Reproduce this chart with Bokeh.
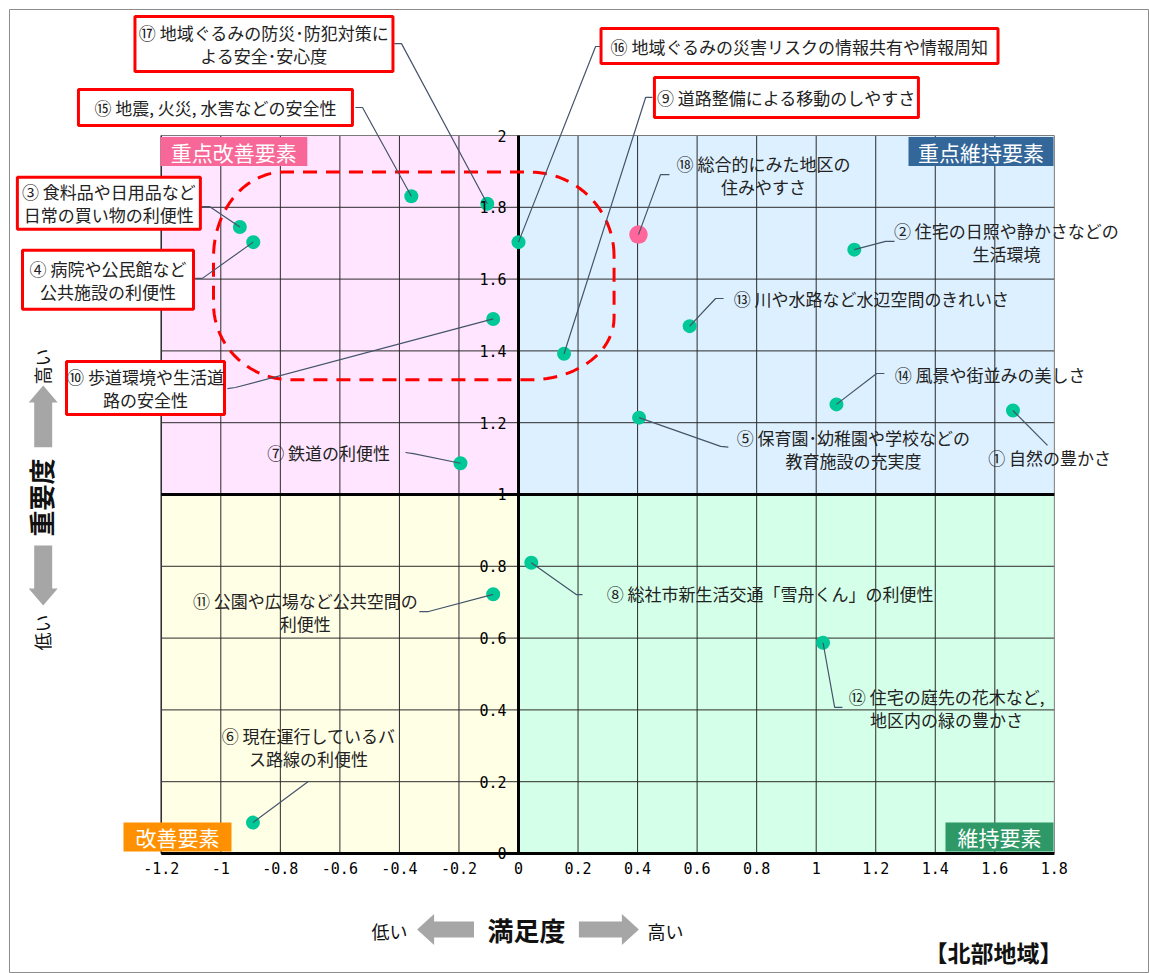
import numpy as np
from bokeh.plotting import figure
from bokeh.models import Range1d, LinearAxis, FixedTicker
from bokeh.core.properties import value
from bokeh.embed import file_html
from bokeh.resources import INLINE

# ---------------- data ----------------
items = [
    "① 自然の豊かさ",
    "② 住宅の日照や静かさなどの\n生活環境",
    "③ 食料品や日用品など\n日常の買い物の利便性",
    "④ 病院や公民館など\n公共施設の利便性",
    "⑤ 保育園･幼稚園や学校などの\n教育施設の充実度",
    "⑥ 現在運行しているバ\nス路線の利便性",
    "⑦ 鉄道の利便性",
    "⑧ 総社市新生活交通「雪舟くん」の利便性",
    "⑨ 道路整備による移動のしやすさ",
    "⑩ 歩道環境や生活道\n路の安全性",
    "⑪ 公園や広場など公共空間の\n利便性",
    "⑫ 住宅の庭先の花木など,\n地区内の緑の豊かさ",
    "⑬ 川や水路など水辺空間のきれいさ",
    "⑭ 風景や街並みの美しさ",
    "⑮ 地震, 火災, 水害などの安全性",
    "⑯ 地域ぐるみの災害リスクの情報共有や情報周知",
    "⑰ 地域ぐるみの防災･防犯対策に\nよる安全･安心度",
]
satisfaction = [1.661, 1.128, -0.936, -0.891, 0.405, -0.892, -0.195, 0.043, 0.153,
                -0.085, -0.085, 1.023, 0.575, 1.068, -0.360, 0.000, -0.105]
importance = [1.234, 1.682, 1.745, 1.703, 1.214, 0.086, 1.087, 0.810, 1.392,
              1.489, 0.722, 0.587, 1.469, 1.251, 1.831, 1.703, 1.810]

overall_item = "⑱ 総合的にみた地区の\n住みやすさ"
overall_satisfaction = [0.403]
overall_importance = [1.724]

xticks = [-1.2, -1, -0.8, -0.6, -0.4, -0.2, 0, 0.2, 0.4, 0.6, 0.8, 1, 1.2, 1.4, 1.6, 1.8]
xtick_labels = ["-1.2", "-1", "-0.8", "-0.6", "-0.4", "-0.2", "0", "0.2", "0.4", "0.6",
                "0.8", "1", "1.2", "1.4", "1.6", "1.8"]
yticks = [0, 0.2, 0.4, 0.6, 0.8, 1, 1.2, 1.4, 1.6, 1.8, 2]
ytick_labels = ["0", "0.2", "0.4", "0.6", "0.8", "1", "1.2", "1.4", "1.6", "1.8", "2"]

quadrant_names = ["重点改善要素", "重点維持要素", "改善要素", "維持要素"]

# ---------------- layout (positions of annotations, data units) ----------------
X_MIN, X_MID, X_MAX = -1.2, 0, 1.8
Y_MIN, Y_MID, Y_MAX = 0, 1, 2

label_x = [1.784, 1.639, -1.376, -1.379, 1.125, -0.705, -0.638, 0.845, 0.900,
           -1.253, -0.716, 1.438, 1.186, 1.584, -1.018, 0.944, -0.855]
label_y = [1.103, 1.703, 1.811, 1.598, 1.128, 0.298, 1.117, 0.724, 2.106,
           1.297, 0.673, 0.404, 1.546, 1.334, 2.078, 2.249, 2.255]
e0x = [1.777, 1.263, -1.065, -1.092, 0.705, -0.705, -0.380, 0.215, 0.450,
       -0.978, -0.333, 1.088, 0.689, 1.229, -0.548, 0.275, -0.417]
e0y = [1.137, 1.705, 1.802, 1.602, 1.132, 0.201, 1.117, 0.721, 2.106,
       1.295, 0.674, 0.407, 1.546, 1.337, 2.078, 2.248, 2.256]
e1x = [1.777, 1.233, -1.038, -1.062, 0.679, -0.705, -0.353, 0.195, 0.427,
       -0.951, -0.302, 1.062, 0.662, 1.203, -0.524, 0.259, -0.393]
e1y = [1.137, 1.705, 1.802, 1.602, 1.134, 0.201, 1.114, 0.721, 2.106,
       1.298, 0.674, 0.407, 1.546, 1.337, 2.078, 2.248, 2.256]
boxed = [2, 3, 8, 9, 14, 15, 16]
box_w = [183, 171, 264, 158, 274, 397, 258]
box_h = [52, 59, 40, 53, 36, 35, 55]

overall_label = (0.823, 1.891)
overall_e0 = (0.507, 1.891)
overall_e1 = (0.477, 1.891)

PX_X = 297.7   # pixels per data unit (x)
PX_Y = 359.0   # pixels per data unit (y)

TEXT_FONT = value("Noto Sans CJK JP")
NUM_FONT = "DejaVu Sans Mono"

p = figure(width=1149, height=973, output_backend="svg", toolbar_location=None,
           x_range=Range1d(-1.7098, 2.1196), y_range=Range1d(-0.3343, 2.3510),
           x_axis_location=None, y_axis_location=None,
           min_border_left=9, min_border_top=9, min_border_right=0, min_border_bottom=0)
p.grid.visible = False
p.background_fill_color = "white"
p.border_fill_color = "white"
p.outline_line_color = "#8c8c8c"
p.outline_line_width = 1

# quadrant backgrounds
p.quad(left=[X_MIN, X_MID, X_MIN, X_MID], right=[X_MID, X_MAX, X_MID, X_MAX],
       bottom=[Y_MID, Y_MID, Y_MIN, Y_MIN], top=[Y_MAX, Y_MAX, Y_MID, Y_MID],
       fill_color=["#FFE5FF", "#DDF0FF", "#FFFFE6", "#D4FFE8"], line_color=None)

# grid lines
gx = [t for t in xticks if t not in (X_MIN, X_MID, X_MAX)]
gy = [t for t in yticks if t not in (Y_MIN, Y_MID, Y_MAX)]
p.segment(x0=gx, y0=[Y_MIN] * len(gx), x1=gx, y1=[Y_MAX] * len(gx),
          line_color="#2b2b2b", line_width=1)
p.segment(x0=[X_MIN] * len(gy), y0=gy, x1=[X_MAX] * len(gy), y1=gy,
          line_color="#2b2b2b", line_width=1)
# plot border
p.quad(left=[X_MIN], right=[X_MAX], bottom=[Y_MIN], top=[Y_MAX],
       fill_color=None, line_color="#7a7a7a", line_width=1)
p.segment(x0=[X_MIN], y0=[Y_MIN], x1=[X_MIN], y1=[Y_MAX], line_color="#333333", line_width=1.5)
# heavy lines
p.segment(x0=[X_MIN, X_MIN, X_MID], y0=[Y_MID, Y_MIN, Y_MIN],
          x1=[X_MAX, X_MAX, X_MID], y1=[Y_MID, Y_MIN, Y_MAX],
          line_color="black", line_width=3)

# axes (tick labels only)
xaxis = LinearAxis(fixed_location=0, bounds=(X_MIN, X_MAX), ticker=FixedTicker(ticks=xticks),
                   major_label_overrides=dict(zip(xticks, xtick_labels)),
                   axis_line_color=None, major_tick_line_color=None, minor_tick_line_color=None,
                   major_tick_out=0, major_tick_in=0, major_label_standoff=9,
                   major_label_text_font=NUM_FONT, major_label_text_font_size="15px",
                   major_label_text_color="black")
p.add_layout(xaxis, "below")
yaxis = LinearAxis(fixed_location=0, bounds=(Y_MIN, Y_MAX), ticker=FixedTicker(ticks=yticks),
                   major_label_overrides=dict(zip(yticks, ytick_labels)),
                   axis_line_color=None, major_tick_line_color=None, minor_tick_line_color=None,
                   major_tick_out=0, major_tick_in=0, major_label_standoff=12,
                   major_label_text_font=NUM_FONT, major_label_text_font_size="15px",
                   major_label_text_color="black")
p.add_layout(yaxis, "left")

# dashed highlight (rounded rectangle around priority items)
def rounded_rect(x0, x1, y0, y1, radii, n=24):
    (rxtl, rytl), (rxtr, rytr), (rxbr, rybr), (rxbl, rybl) = radii
    xs, ys = [], []
    specs = [((x1 - rxtr, y1 - rytr), rxtr, rytr, 0, 90),
             ((x0 + rxtl, y1 - rytl), rxtl, rytl, 90, 180),
             ((x0 + rxbl, y0 + rybl), rxbl, rybl, 180, 270),
             ((x1 - rxbr, y0 + rybr), rxbr, rybr, 270, 360)]
    for (cx, cy), rx, ry, a0, a1 in specs:
        t = np.radians(np.linspace(a0, a1, n))
        xs.extend(cx + rx * np.cos(t))
        ys.extend(cy + ry * np.sin(t))
    xs.append(xs[0]); ys.append(ys[0])
    return xs, ys

hx, hy = rounded_rect(-1.0245, 0.321, 1.3195, 1.898,
                      [(70 / PX_X, 85 / PX_Y), (84 / PX_X, 84 / PX_Y),
                       (84 / PX_X, 62 / PX_Y), (78 / PX_X, 76 / PX_Y)])
p.line(hx, hy, line_color="#FF0000", line_width=3, line_dash="14 9")

# points
p.scatter(satisfaction, importance, size=14, fill_color="#00C896", line_color=None)
p.scatter(overall_satisfaction, overall_importance, size=18.5, fill_color="#FF6699", line_color=None)

# leader lines
lx = [[e0x[i], e1x[i], satisfaction[i]] for i in range(len(items))]
ly = [[e0y[i], e1y[i], importance[i]] for i in range(len(items))]
lx.append([overall_e0[0], overall_e1[0], overall_satisfaction[0]])
ly.append([overall_e0[1], overall_e1[1], overall_importance[0]])
p.multi_line(lx, ly, line_color="#44546A", line_width=1.2)

# boxes for some labels
p.rect([label_x[i] for i in boxed], [label_y[i] for i in boxed], width=box_w, height=box_h,
       width_units="screen", height_units="screen",
       fill_color="white", line_color="#FF0000", line_width=3)

# labels
p.text(label_x + [overall_label[0]], label_y + [overall_label[1]], text=items + [overall_item],
       text_align="center", text_baseline="middle", text_font=TEXT_FONT,
       text_font_size="17px", text_line_height=0.92, text_color="#222222")

# quadrant corner labels
corner_x = [-0.9563, 1.5536, -1.1455, 1.6157]
corner_y = [1.9554, 1.9554, 0.046, 0.046]
corner_w = [147, 145, 108, 108]
corner_color = ["#F76898", "#336699", "#FF9000", "#2E9966"]
p.rect(corner_x, corner_y, width=corner_w, height=[29] * 4, width_units="screen",
       height_units="screen", fill_color=corner_color, line_color=None)
p.text(corner_x, corner_y, text=quadrant_names, text_align="center", text_baseline="middle",
       text_font=TEXT_FONT, text_font_size="21px", text_color="white")

# axis title arrows
def arrow_poly(tail, tip, shaft_px, head_w_px, head_len_px, horizontal):
    if horizontal:
        (x0, y), (x1, _) = tail, tip
        d = np.sign(x1 - x0)
        hl = head_len_px / PX_X
        sw, hw = shaft_px / 2 / PX_Y, head_w_px / 2 / PX_Y
        xb = x1 - d * hl
        return ([x0, xb, xb, x1, xb, xb, x0], [y - sw, y - sw, y - hw, y, y + hw, y + sw, y + sw])
    (x, y0), (_, y1) = tail, tip
    d = np.sign(y1 - y0)
    hl = head_len_px / PX_Y
    sw, hw = shaft_px / 2 / PX_X, head_w_px / 2 / PX_X
    yb = y1 - d * hl
    return ([x - sw, x - sw, x - hw, x, x + hw, x + sw, x + sw], [y0, yb, yb, y1, yb, yb, y0])

arrows = [arrow_poly((-0.1495, -0.2117), (-0.3406, -0.2117), 16, 31, 17, True),
          arrow_poly((0.2029, -0.2117), (0.4044, -0.2117), 16, 31, 17, True),
          arrow_poly((-1.5966, 1.1318), (-1.5966, 1.3036), 18, 29, 17, False),
          arrow_poly((-1.5966, 0.858), (-1.5966, 0.6908), 18, 29, 17, False)]
p.patches([a[0] for a in arrows], [a[1] for a in arrows], fill_color="#A6A6A6", line_color=None)

p.text([-0.4333, 0.4938], [-0.2173, -0.2173], text=["低い", "高い"], text_align="center",
       text_baseline="middle", text_font=TEXT_FONT, text_font_size="18px", text_color="#111111")
p.text([0.0269], [-0.2117], text=["満足度"], text_align="center", text_baseline="middle",
       text_font=TEXT_FONT, text_font_size="26px", text_font_style="bold", text_color="#111111")
p.text([-1.5999, -1.5999], [1.3565, 0.6156], text=["高い", "低い"], angle=np.pi / 2,
       text_align="center", text_baseline="middle", text_font=TEXT_FONT,
       text_font_size="18px", text_color="#111111")
p.text([-1.6056], [0.9916], text=["重要度"], angle=np.pi / 2, text_align="center",
       text_baseline="middle", text_font=TEXT_FONT, text_font_size="26px",
       text_font_style="bold", text_color="#111111")
p.text([1.5956], [-0.2744], text=["【北部地域】"], text_align="center", text_baseline="middle",
       text_font=TEXT_FONT, text_font_size="23px", text_font_style="bold", text_color="#111111")

open("out.html", "w").write(file_html(p, INLINE))
